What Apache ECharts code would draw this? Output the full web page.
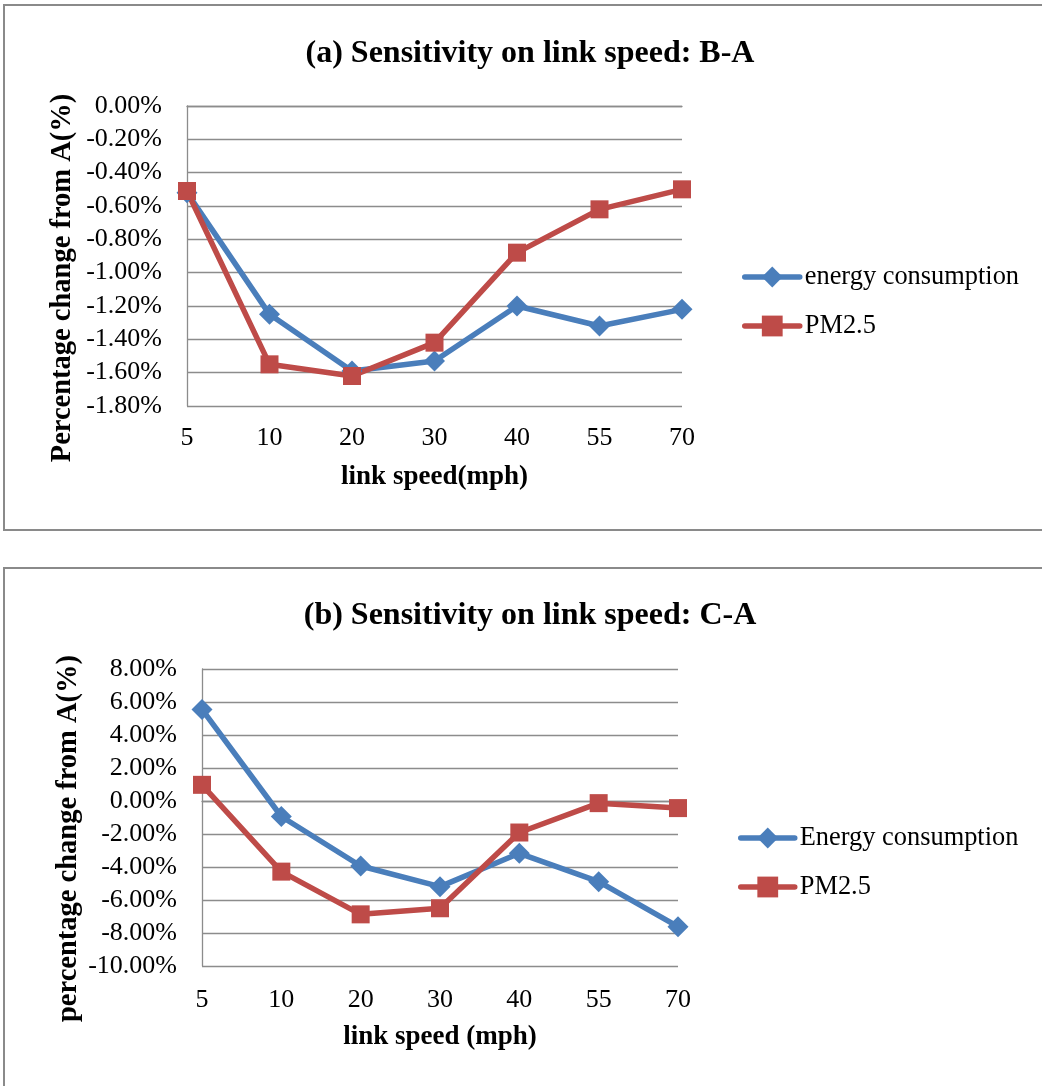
<!DOCTYPE html>
<html>
<head>
<meta charset="utf-8">
<script src="https://cdn.jsdelivr.net/npm/echarts@6/dist/echarts.min.js"></script>
<style>
html,body{margin:0;padding:0;background:#fff;}
#chart{width:1042px;height:1086px;}
</style>
</head>
<body>
<div id="chart"></div>
<script>
// ---- data ----
const categories = ['5', '10', '20', '30', '40', '55', '70'];
const aEnergy = [-0.52, -1.25, -1.59, -1.53, -1.20, -1.32, -1.22];
const aPM25 = [-0.51, -1.55, -1.62, -1.42, -0.88, -0.62, -0.50];
const bEnergy = [5.55, -0.94, -3.94, -5.19, -3.17, -4.89, -7.62];
const bPM25 = [0.98, -4.28, -6.87, -6.50, -1.91, -0.13, -0.43];
const titleA = '(a) Sensitivity on link speed: B-A';
const titleB = '(b) Sensitivity on link speed: C-A';
const yNameA = 'Percentage change from A(%)';
const yNameB = 'percentage change from A(%)';
const xNameA = 'link speed(mph)';
const xNameB = 'link speed (mph)';
const legendA = ['energy consumption', 'PM2.5'];
const legendB = ['Energy consumption', 'PM2.5'];

const FONT = "'Liberation Serif','Times New Roman',serif";
const BLUE = '#4A7EBB';
const RED = '#BE4B48';
const GRID = '#8c8c8c';

const chart = echarts.init(document.getElementById('chart'), null, {renderer: 'canvas'});

function yAxis(gi, min, max, interval, name, gap, pad) {
  return {
    type: 'value', gridIndex: gi, min: min, max: max, interval: interval,
    name: name, nameLocation: 'middle', nameGap: gap, nameRotate: 90,
    nameTextStyle: {fontFamily: FONT, fontWeight: 'bold', fontSize: 28.5, color: '#000', padding: pad},
    axisLine: {show: true, lineStyle: {color: GRID, width: 1.3}},
    axisTick: {show: false},
    axisLabel: {fontFamily: FONT, fontSize: 26, color: '#000', margin: 25,
      formatter: v => v.toFixed(2) + '%'},
    splitLine: {show: true, lineStyle: {color: GRID, width: 1.3}}
  };
}
function xAxis(gi, name, margin) {
  return {
    type: 'category', gridIndex: gi, data: categories, boundaryGap: false,
    name: name, nameLocation: 'middle', nameGap: 58,
    nameTextStyle: {fontFamily: FONT, fontWeight: 'bold', fontSize: 27, color: '#000'},
    axisLine: {show: true, lineStyle: {color: GRID, width: 1.3}},
    axisTick: {show: false},
    axisLabel: {fontFamily: FONT, fontSize: 26, color: '#000', margin: margin},
    splitLine: {show: false}
  };
}
function lineSeries(name, data, idx, color, symbol, size) {
  return {
    type: 'line', name: name, data: data, xAxisIndex: idx, yAxisIndex: idx,
    symbol: symbol, symbolSize: size, showSymbol: true,
    lineStyle: {color: color, width: 5.5},
    itemStyle: {color: color},
    emphasis: {disabled: true},
    animation: false
  };
}
function legend(names, left, top, w) {
  return {
    data: names.map(n => ({name: n})), orient: 'vertical', left: left, top: top, padding: 0,
    itemWidth: w, itemHeight: 26, itemGap: 23,
    lineStyle: {width: 5.5, cap: 'round'},
    textStyle: {fontFamily: FONT, fontSize: 26.4, color: '#000'}
  };
}

const option = {
  backgroundColor: '#fff',
  animation: false,
  title: [
    {text: titleA, left: 530, top: 38, textAlign: 'center', padding: 0,
      textStyle: {fontFamily: FONT, fontWeight: 'bold', fontSize: 32, color: '#000'}},
    {text: titleB, left: 530, top: 600, textAlign: 'center', padding: 0,
      textStyle: {fontFamily: FONT, fontWeight: 'bold', fontSize: 32, color: '#000'}}
  ],
  legend: [
    legend(legendA, 742, 264, 55),
    legend(legendB, 738, 825, 54)
  ],
  grid: [
    {left: 187, top: 106, width: 495, height: 300},
    {left: 202, top: 669, width: 476, height: 297}
  ],
  xAxis: [xAxis(0, xNameA, 19), xAxis(1, xNameB, 21)],
  yAxis: [
    yAxis(0, -1.8, 0, 0.2, yNameA, 110, [0, 44, 0, 0]),
    yAxis(1, -10, 8, 2, yNameB, 119, [0, 42, 0, 0])
  ],
  series: [
    lineSeries(legendA[0], aEnergy, 0, BLUE, 'diamond', 21),
    lineSeries(legendA[1], aPM25, 0, RED, 'rect', 18),
    lineSeries(legendB[0], bEnergy, 1, BLUE, 'diamond', 21),
    lineSeries(legendB[1], bPM25, 1, RED, 'rect', 18)
  ],
  graphic: [
    {type: 'rect', shape: {x: 4, y: 5, width: 1100, height: 525}, silent: true, z: -10,
      style: {fill: null, stroke: '#8a8a8a', lineWidth: 2}},
    {type: 'rect', shape: {x: 4, y: 568, width: 1100, height: 600}, silent: true, z: -10,
      style: {fill: null, stroke: '#8a8a8a', lineWidth: 2}}
  ]
};
chart.setOption(option);
</script>
</body>
</html>
